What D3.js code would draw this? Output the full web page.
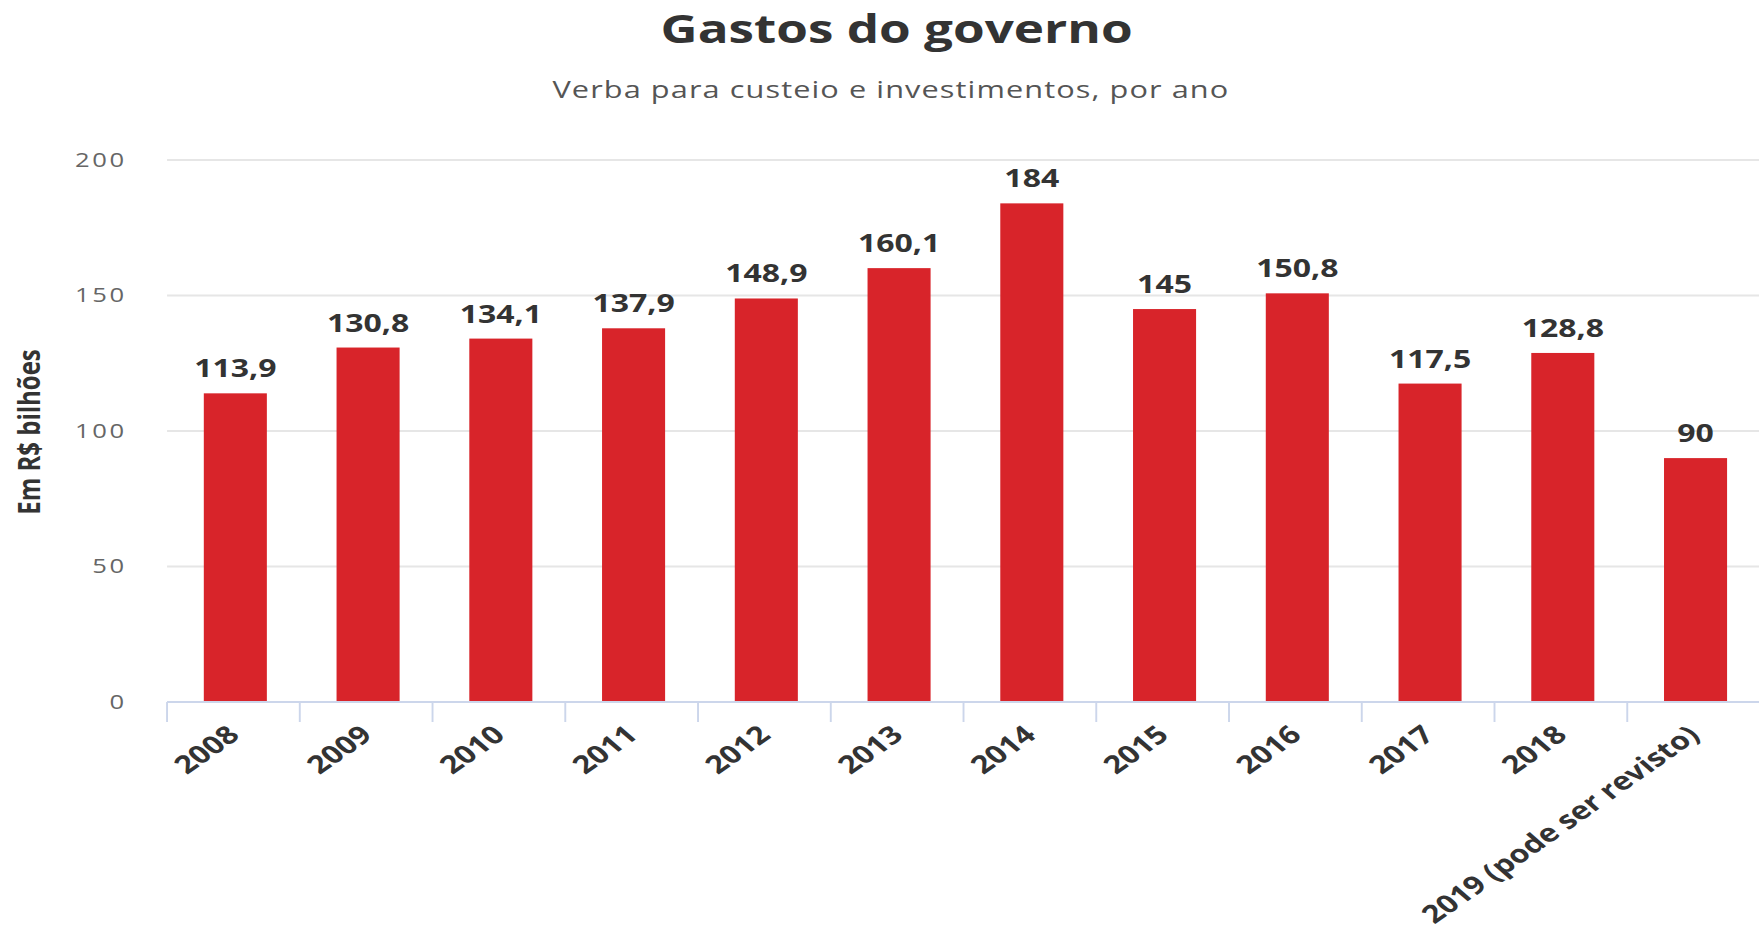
<!DOCTYPE html>
<html>
<head>
<meta charset="utf-8">
<script src="https://cdn.jsdelivr.net/npm/d3@7"></script>
<style>
	body { margin: 0; background: #fff; }
	text { font-family: "Open Sans", sans-serif; }
</style>
</head>
<body>
<svg id="chart"></svg>
<script>
/*
 * gastos do governo
 */

var WIDTH = 1759;
var HEIGHT = 933;
// the picture is stretched sideways, so draw narrow and widen it
var STRETCH_X = 1.28;

var PLOT_LEFT = 130.5;
var PLOT_RIGHT = 1375;
var PLOT_TOP = 160;
var PLOT_BOTTOM = 702;
var BAR_COLOR = "#d8242a";

var years = ["2008", "2009", "2010", "2011", "2012", "2013", "2014", "2015", "2016", "2017", "2018", "2019 (pode ser revisto)"];
var values = [113.9, 130.8, 134.1, 137.9, 148.9, 160.1, 184, 145, 150.8, 117.5, 128.8, 90];
var yTicks = [0, 50, 100, 150, 200];

var title = "Gastos do governo";
var subtitle = "Verba para custeio e investimentos, por ano";
var yTitle = "Em R$ bilhões";

var svg = d3.select("#chart")
	.attr("width", WIDTH)
	.attr("height", HEIGHT);

var g = svg.append("g")
	.attr("transform", "scale(" + STRETCH_X + ",1)");

var x = d3.scaleBand()
	.domain(years)
	.range([PLOT_LEFT, PLOT_RIGHT])
	.paddingInner(0.525)
	.paddingOuter(0.2625);

var y = d3.scaleLinear()
	.domain([0, 200])
	.range([PLOT_BOTTOM, PLOT_TOP]);

function fmt(v) {
	return String(v).replace(".", ",");
}

// titles
g.append("text")
	.attr("x", 700.5)
	.attr("y", 43)
	.attr("text-anchor", "middle")
	.style("font-size", "40px")
	.style("font-weight", 700)
	.style("fill", "#333")
	.text(title);

g.append("text")
	.attr("x", 696)
	.attr("y", 98)
	.attr("text-anchor", "middle")
	.style("font-size", "24px")
	.style("letter-spacing", "0.85px")
	.style("fill", "#555")
	.text(subtitle);

// grid
g.selectAll(".grid")
	.data(yTicks.filter(function(d) { return d > 0; }))
	.enter()
	.append("line")
	.attr("class", "grid")
	.attr("x1", PLOT_LEFT)
	.attr("x2", PLOT_RIGHT)
	.attr("y1", function(d) { return y(d); })
	.attr("y2", function(d) { return y(d); })
	.style("stroke", "#e6e6e6")
	.style("stroke-width", 2);

// y labels
g.selectAll(".ylab")
	.data(yTicks)
	.enter()
	.append("text")
	.attr("class", "ylab")
	.attr("x", 99)
	.attr("y", function(d) { return y(d) + 7; })
	.attr("text-anchor", "end")
	.style("font-size", "20px")
	.style("letter-spacing", "2px")
	.style("fill", "#666")
	.text(function(d) { return d; });

g.append("text")
	.attr("transform", "translate(31,432) rotate(-90)")
	.attr("text-anchor", "middle")
	.style("font-size", "24px")
	.style("font-weight", 700)
	.style("fill", "#333")
	.text(yTitle);

// bars
g.selectAll(".bar")
	.data(values)
	.enter()
	.append("rect")
	.attr("class", "bar")
	.attr("x", function(d, i) { return x(years[i]) + 1.5; })
	.attr("y", function(d) { return y(d); })
	.attr("width", x.bandwidth())
	.attr("height", function(d) { return y(0) - y(d); })
	.style("fill", BAR_COLOR);

g.selectAll(".val")
	.data(values)
	.enter()
	.append("text")
	.attr("class", "val")
	.attr("x", function(d, i) { return x(years[i]) + 1.5 + x.bandwidth() / 2; })
	.attr("y", function(d) { return y(d) - 16; })
	.attr("text-anchor", "middle")
	.style("font-size", "25px")
	.style("font-weight", 700)
	.style("fill", "#333")
	.text(function(d) { return fmt(d); });

// x axis
var step = x.step();

g.append("line")
	.attr("x1", PLOT_LEFT)
	.attr("x2", PLOT_RIGHT)
	.attr("y1", PLOT_BOTTOM)
	.attr("y2", PLOT_BOTTOM)
	.style("stroke", "#ccd6eb")
	.style("stroke-width", 2);

g.selectAll(".tick")
	.data(years)
	.enter()
	.append("line")
	.attr("class", "tick")
	.attr("x1", function(d) { return x(d) - x.paddingOuter() * step; })
	.attr("x2", function(d) { return x(d) - x.paddingOuter() * step; })
	.attr("y1", PLOT_BOTTOM)
	.attr("y2", PLOT_BOTTOM + 20)
	.style("stroke", "#ccd6eb")
	.style("stroke-width", 1.5);

g.selectAll(".xlab")
	.data(years)
	.enter()
	.append("text")
	.attr("class", "xlab")
	.attr("transform", function(d) {
		var cx = x(d) + x.bandwidth() / 2 + 6;
		return "translate(" + cx + "," + (PLOT_BOTTOM + 35) + ") rotate(-42)";
	})
	.attr("text-anchor", "end")
	.style("font-size", "25px")
	.style("font-weight", 700)
	.style("fill", "#333")
	.text(function(d) { return d; });
</script>
</body>
</html>
